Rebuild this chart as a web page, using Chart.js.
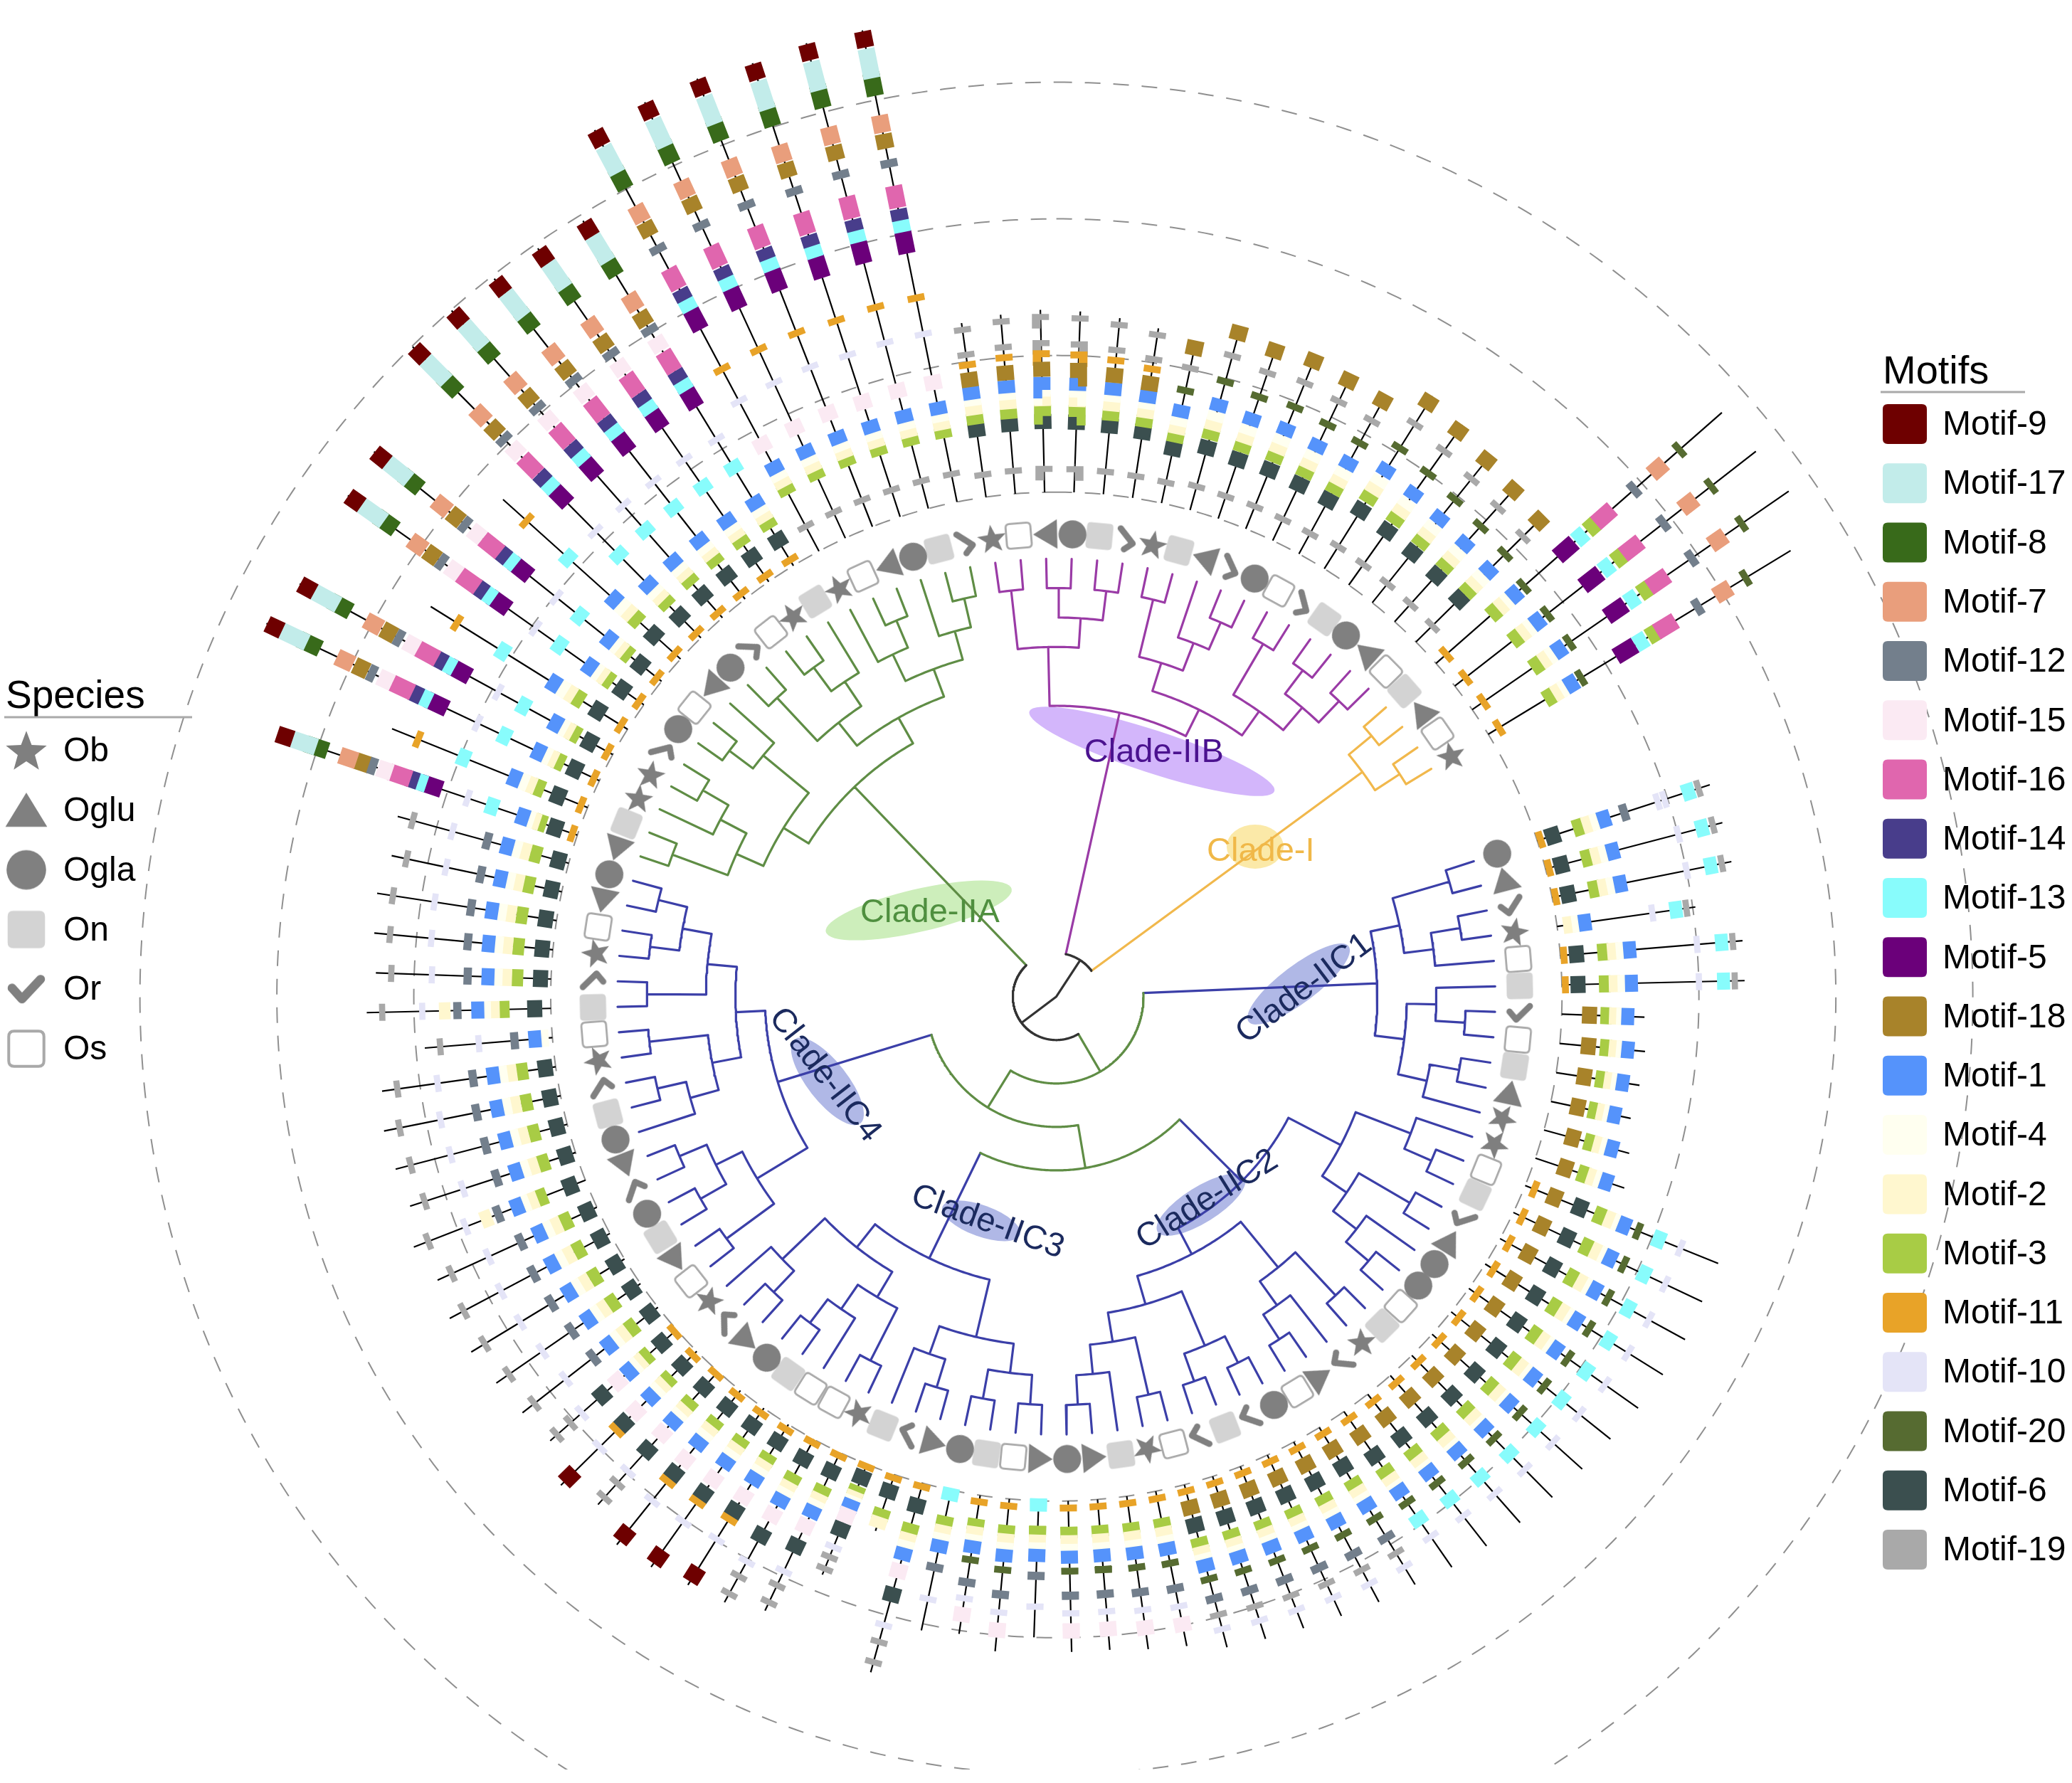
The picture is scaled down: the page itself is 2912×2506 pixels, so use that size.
<!DOCTYPE html>
<html>
<head>
<meta charset="utf-8">
<title>Motif tree</title>
<script src="https://cdn.jsdelivr.net/npm/chart.js@4.4.1/dist/chart.umd.min.js"></script>
<style>
  html, body { margin: 0; padding: 0; background: #ffffff; }
  #wrap { position: relative; width: 2912px; height: 2506px; }
</style>
</head>
<body>
<div id="wrap"><canvas id="treeChart"></canvas></div>
<script>
// ---------- data ----------
const motifIds = [9, 17, 8, 7, 12, 15, 16, 14, 13, 5, 18, 1, 4, 2, 3, 11, 10, 20, 6, 19];
const motifColors = ['#6e0000', '#c2ecea', '#386a1a', '#e99e7c', '#737f8c', '#fbeaf3', '#e066ae', '#483d8b',
    '#88fcfc', '#6b007a', '#a8832a', '#5593fb', '#fffff0', '#fff7cf', '#a8cc45', '#e8a328', '#e4e4f7',
    '#566b31', '#3b4f4f', '#a9a9a9'];
const motifSizes = [24, 44, 34, 26, 12, 22, 33, 17, 19, 33, 22, 19, 14, 17, 17, 10, 9, 10, 22, 9]; // aa

const speciesNames = ['Ob', 'Oglu', 'Ogla', 'On', 'Or', 'Os'];
const ringTicks = [0, 200, 400, 600]; // aa

const cladeNames = ['Clade-IIB', 'Clade-I', 'Clade-IIC1', 'Clade-IIC2', 'Clade-IIC3', 'Clade-IIC4', 'Clade-IIA'];
const cladeColors = ['#9a3ba6', '#f1b84c', '#3b3fa8', '#3b3fa8', '#3b3fa8', '#3b3fa8', '#5f8d45'];
const cladeShapes = [
    '(((x,x),((x,x),(x,x))),(((x,x),(x,(x,x))),((x,x),((x,x),(x,x)))))',
    '((x,x),(x,x))',
    '(((x,x),((x,x),x)),((x,(x,x)),((x,x),x)))',
    '(((x,(x,x)),((x,x),(x,(x,x)))),(((x,x),(x,(x,x))),(((x,x),(x,x)),((x,x),(x,(x,x))))))',
    '((((x,x),(x,x)),((x,x),x)),(((x,x),(x,(x,x))),((x,x),x)))',
    '(((x,x),((x,x),(x,x))),(((x,(x,x)),(x,x)),((x,x),((x,x),(x,x)))))',
    '((((x,x),(x,(x,x))),((x,x),x)),(((x,x),((x,x),x)),((x,(x,x)),(x,(x,x)))))'
];
const backboneShape = '((0,1),((2,((3,4),5)),6))';
const cladeGapAfter = [0, 3, 0, 0, 0, 0, 0];

const cladeSpecies = [
    'Ob Os Oglu Ogla On Or Ob On Oglu Or Ogla Os Or On Ogla Oglu Os',
    'On Oglu Os Ob',
    'Ogla Oglu Or Ob Os On Or Os On Oglu Ob',
    'Ob Os On Or Oglu Ogla Ogla Os On Ob Or Oglu Os Ogla Or On Or Os Ob On Oglu Ogla',
    'Oglu Os On Ogla Oglu Or On Ob Os Os On Ogla Oglu Or Ob',
    'Os Oglu On Ogla Or Oglu Ogla On Or Ob Os On Or Ob Os Oglu Ogla',
    'Oglu On Ob Ob Or Ogla Os Oglu Ogla Or Os Ob On Ob Os Oglu Ogla On Or'
];

const cladePatterns = [
    ['A', 'A', 'A', 'A', 'A', 'A', 'B', 'B', 'B', 'B', 'B', 'B', 'B', 'B', 'B', 'B', 'B'],
    ['I', 'I', 'I', 'I'],
    ['C1a', 'C1', 'C1', 'C1s', 'C1', 'C1', 'C1b', 'C1b', 'C1b', 'C1b', 'C1b'],
    ['C1b', 'C2', 'C2', 'C2', 'C2', 'C2', 'C2', 'C2', 'C2', 'C2', 'C2', 'C2',
        'C2b', 'C2b', 'C2b', 'C2b', 'C2b', 'C2b', 'C3', 'C3', 'C3', 'C3'],
    ['C3m', 'C3', 'C3', 'C3m', 'C3c', 'C3s', 'C3c', 'C3c', 'C3c', 'C3r', 'C3r', 'C3r', 'C3c', 'C3r', 'C3c'],
    ['C4', 'C4', 'C4', 'C4', 'C4', 'C4b', 'C4', 'C4', 'C4', 'C4', 'C4s', 'C4b', 'C4', 'C4', 'C4', 'C4', 'C4'],
    ['A3', 'A5', 'A3', 'A3', 'A5', 'A3', 'A3', 'A5', 'A3', 'A3', 'A3', 'A3', 'A3', 'A2', 'A2', 'A2', 'A2', 'A2', 'A2']
];
const cladeLengths = [
    [257, 263, 267, 265, 259, 251, 241, 279, 269, 275, 269, 265, 298, 287, 277, 269, 262],
    [556, 558, 562, 517],
    [265, 267, 267, 204, 267, 267, 121, 125, 123, 119, 129],
    [137, 304, 305, 308, 306, 303, 298, 295, 292, 287, 282, 277, 269, 265, 259, 254, 250, 246, 231, 226, 221, 221],
    [200, 224, 205, 210, 287, 87, 174, 256, 272, 277, 285, 289, 262, 279, 246],
    [251, 256, 262, 265, 256, 269, 254, 259, 263, 256, 187, 269, 256, 262, 265, 254, 259],
    [462, 308, 538, 521, 339, 530, 538, 349, 599, 599, 595, 593, 591, 698, 702, 704, 698, 704, 704]
];

// motif architectures: [motif, position], last entry [0, length]
const patA = [[19, 33], [6, 100], [3, 116], [2, 130], [4, 142], [1, 154], [18, 174], [11, 196], [19, 211], [19, 248], [0, 258]];
const patB = [[19, 35], [6, 92], [3, 112], [2, 126], [4, 138], [1, 155], [20, 190], [19, 228], [18, 262], [0, 272]];
const patI = [[11, 19], [3, 108], [2, 123], [4, 134], [1, 146], [20, 163], [5, 241], [13, 268], [3, 289], [16, 312],
    [12, 368], [7, 412], [20, 452], [0, 531]];
const patC1a = [[11, 5], [6, 23], [3, 62], [2, 76], [4, 87], [1, 100], [12, 130], [10, 180], [10, 190], [13, 226], [19, 241], [0, 258]];
const patC1 = [[11, 5], [6, 23], [3, 61], [2, 75], [4, 86], [1, 99], [10, 195], [13, 230], [19, 246], [0, 260]];
const patC1s = [[2, 17], [4, 28], [1, 40], [10, 137], [13, 171], [19, 186], [0, 199]];
const patC1b = [[18, 45], [3, 72], [2, 86], [4, 96], [1, 107], [0, 134]];
const patC2 = [[11, 14], [18, 45], [6, 84], [3, 114], [2, 130], [4, 142], [1, 152], [20, 173], [13, 205], [10, 238], [0, 296]];
const patC2b = [[11, 10], [18, 35], [6, 62], [3, 90], [2, 103], [4, 113], [1, 124], [20, 145], [12, 175], [19, 200], [10, 222], [0, 250]];
const patC3 = [[11, 10], [3, 45], [2, 57], [4, 68], [1, 80], [20, 100], [12, 135], [10, 160], [15, 185], [0, 215]];
const patC3m = [[13, 6], [3, 45], [2, 58], [4, 68], [1, 80], [12, 110], [10, 155], [0, 200]];
const patC3c = [[11, 5], [6, 33], [3, 68], [2, 82], [4, 92], [1, 105], [15, 130], [6, 165], [10, 210], [19, 235], [19, 265], [0, 280]];
const patC3s = [[11, 5], [6, 25], [3, 60], [2, 72], [0, 85]];
const patC3r = [[11, 8], [6, 30], [3, 60], [2, 72], [4, 82], [1, 95], [15, 125], [6, 150], [11, 165], [10, 200], [9, 262], [0, 280]];
const patC4 = [[6, 15], [3, 48], [2, 64], [4, 76], [1, 90], [12, 119], [10, 170], [19, 228], [0, 250]];
const patC4b = [[6, 23], [3, 67], [2, 81], [4, 92], [1, 104], [12, 133], [2, 151], [10, 183], [19, 240], [0, 262]];
const patC4s = [[4, 12], [1, 25], [12, 54], [10, 105], [19, 160], [0, 182]];
const patA2 = [[19, 40], [3, 100], [2, 112], [4, 122], [1, 135], [15, 172], [10, 242], [11, 294], [5, 374], [13, 398],
    [14, 414], [16, 440], [12, 488], [18, 520], [7, 545], [8, 602], [17, 632], [9, 667], [0, 680]];
const patA3 = [[11, 10], [6, 45], [3, 75], [2, 88], [4, 98], [1, 112], [13, 175], [10, 225], [5, 300], [13, 322],
    [14, 338], [16, 364], [15, 395], [12, 420], [18, 440], [7, 470], [8, 535], [17, 565], [9, 600], [0, 615]];
const patA5 = [[11, 10], [6, 45], [3, 75], [2, 88], [4, 98], [1, 112], [13, 190], [11, 260], [0, 300]];

const patterns = {
    A: patA, B: patB, I: patI, C1a: patC1a, C1: patC1, C1s: patC1s, C1b: patC1b, C2: patC2, C2b: patC2b,
    C3: patC3, C3m: patC3m, C3c: patC3c, C3s: patC3s, C3r: patC3r, C4: patC4, C4b: patC4b, C4s: patC4s,
    A2: patA2, A3: patA3, A5: patA5
};

// ---------- layout ----------
const CX = 1485, CY = 1403, W = 2912, H = 2506;
const R_SYMBOL = 660, R_TIP = 625, R_LINE0 = 720, AA_PX = 0.975;
const D_LEVEL = 42, BACKBONE_STEP = 62, START_ANGLE = 352, BOX_W = 24;
const FONT = '"Liberation Sans", Arial, sans-serif';

function polar(r, deg) {
    const a = deg * Math.PI / 180;
    return { x: r * Math.sin(a), y: r * Math.cos(a) };
}
function arcPts(r, a1, a2) {
    const n = Math.max(2, Math.ceil(Math.abs(a2 - a1) / 0.5) + 1);
    const pts = [];
    for (let i = 0; i < n; i++) pts.push(polar(r, a1 + (a2 - a1) * i / (n - 1)));
    return pts;
}
function addSeg(arr, pts) {
    if (arr.length) arr.push({ x: null, y: null });
    pts.forEach(p => arr.push(p));
}

function parseShape(str, refs) {
    let i = 0;
    function node() {
        if (str[i] === '(') {
            i++;
            const kids = [node()];
            while (str[i] === ',') { i++; kids.push(node()); }
            i++;
            return { kids };
        }
        const ch = str[i++];
        if (refs) return refs[+ch];
        return { leaf: true };
    }
    return node();
}

const totalLeaves = cladeSpecies.reduce((s, t) => s + t.split(' ').length, 0);
const totalGaps = cladeGapAfter.reduce((s, v) => s + v, 0);
const STEP = 360 / (totalLeaves + totalGaps);

const leaves = [];
const cladeRoots = [];
let slot = 0;
cladeNames.forEach((name, ci) => {
    const root = parseShape(cladeShapes[ci]);
    const sp = cladeSpecies[ci].split(' ');
    let k = 0;
    function place(n) {
        n.color = cladeColors[ci];
        if (n.leaf) {
            n.angle = START_ANGLE + slot * STEP;
            slot++;
            n.r = R_TIP;
            n.h = 0;
            leaves.push({ angle: n.angle, species: sp[k], pattern: cladePatterns[ci][k], len: cladeLengths[ci][k] });
            k++;
            return;
        }
        n.kids.forEach(place);
        n.h = 1 + Math.max(...n.kids.map(c => c.h));
        n.r = R_TIP - D_LEVEL * n.h;
        n.angle = (n.kids[0].angle + n.kids[n.kids.length - 1].angle) / 2;
    }
    place(root);
    if (k !== sp.length) console.warn('leaf count mismatch', name, k, sp.length);
    root.isClade = true;
    slot += cladeGapAfter[ci];
    cladeRoots.push(root);
});

const treeRoot = parseShape(backboneShape, cladeRoots);
(function placeBackbone(n, depth) {
    if (n.isClade) return;
    n.kids.forEach(c => placeBackbone(c, depth + 1));
    n.r = BACKBONE_STEP * depth;
    n.angle = (n.kids[0].angle + n.kids[n.kids.length - 1].angle) / 2;
    n.color = depth >= 2 ? cladeColors[6] : '#333333';
})(treeRoot, 0);

// tree branches grouped by colour
const branchStore = {};
function store(color) { return branchStore[color] || (branchStore[color] = []); }
(function collect(n) {
    if (!n.kids) return;
    const first = n.kids[0], last = n.kids[n.kids.length - 1];
    if (n.r > 0) addSeg(store(n.color), arcPts(n.r, first.angle, last.angle));
    n.kids.forEach(c => {
        addSeg(store(c.color), [polar(n.r, c.angle), polar(c.r, c.angle)]);
        collect(c);
    });
})(treeRoot);

// protein lines and motif boxes
const linePts = [];
const motifPts = motifIds.map(() => []);
leaves.forEach(lf => {
    const pat = patterns[lf.pattern];
    const base = pat[pat.length - 1][1];
    addSeg(linePts, [polar(R_LINE0, lf.angle), polar(R_LINE0 + lf.len * AA_PX, lf.angle)]);
    pat.forEach(([m, pos]) => {
        if (!m) return;
        const mi = motifIds.indexOf(m);
        const c = pos * lf.len / base;
        const half = motifSizes[mi] / 2;
        addSeg(motifPts[mi], [polar(R_LINE0 + (c - half) * AA_PX, lf.angle), polar(R_LINE0 + (c + half) * AA_PX, lf.angle)]);
    });
});

// species symbols
function roundRectPath(g, x, y, w, h, r) {
    g.beginPath();
    g.moveTo(x + r, y);
    g.lineTo(x + w - r, y);
    g.quadraticCurveTo(x + w, y, x + w, y + r);
    g.lineTo(x + w, y + h - r);
    g.quadraticCurveTo(x + w, y + h, x + w - r, y + h);
    g.lineTo(x + r, y + h);
    g.quadraticCurveTo(x, y + h, x, y + h - r);
    g.lineTo(x, y + r);
    g.quadraticCurveTo(x, y, x + r, y);
    g.closePath();
}
function drawSymbol(g, code) {
    g.lineJoin = 'round';
    g.lineCap = 'round';
    if (code === 'Ob') {
        g.fillStyle = '#7f7f7f';
        g.beginPath();
        for (let i = 0; i < 10; i++) {
            const rr = i % 2 ? 8.2 : 19.5;
            const a = -Math.PI / 2 + i * Math.PI / 5;
            g.lineTo(rr * Math.cos(a), rr * Math.sin(a) + 1.5);
        }
        g.closePath();
        g.fill();
    } else if (code === 'Oglu') {
        g.fillStyle = '#808080';
        g.beginPath();
        g.moveTo(0, -16); g.lineTo(19, 15); g.lineTo(-19, 15);
        g.closePath();
        g.fill();
    } else if (code === 'Ogla') {
        g.fillStyle = '#808080';
        g.beginPath();
        g.arc(0, 0, 18, 0, Math.PI * 2);
        g.fill();
    } else if (code === 'On') {
        g.fillStyle = '#d3d3d3';
        roundRectPath(g, -17, -17, 34, 34, 5);
        g.fill();
    } else if (code === 'Or') {
        g.strokeStyle = '#808080';
        g.lineWidth = 8;
        g.beginPath();
        g.moveTo(-13, -1); g.lineTo(-4, 9); g.lineTo(13, -9);
        g.stroke();
    } else {
        g.fillStyle = '#ffffff';
        g.strokeStyle = '#a9a9a9';
        g.lineWidth = 2.6;
        roundRectPath(g, -16, -16, 32, 32, 5);
        g.fill();
        g.stroke();
    }
}
function makeSymbol(code, size) {
    const c = document.createElement('canvas');
    c.width = size;
    c.height = size;
    const g = c.getContext('2d');
    g.translate(size / 2, size / 2);
    g.scale(size / 44, size / 44);
    drawSymbol(g, code);
    return c;
}
const smallSymbols = {}, bigSymbols = {};
speciesNames.forEach(s => { smallSymbols[s] = makeSymbol(s, 48); bigSymbols[s] = makeSymbol(s, 68); });

function symbolRotation(code, angle) {
    return (code === 'Oglu' || code === 'Or') ? angle - 90 : angle;
}

// ---------- datasets ----------
const datasets = [];
ringTicks.forEach(t => {
    datasets.push({
        data: arcPts(R_LINE0 + t * AA_PX, 0, 360),
        showLine: true, borderColor: '#8f8f8f', borderWidth: 2, borderDash: [22, 18],
        pointRadius: 0, order: 6
    });
});
datasets.push({
    data: linePts, showLine: true, borderColor: '#000000', borderWidth: 2.2,
    borderCapStyle: 'butt', pointRadius: 0, order: 5
});
motifIds.forEach((m, i) => {
    datasets.push({
        label: 'Motif-' + m, data: motifPts[i], showLine: true, borderColor: motifColors[i],
        borderWidth: BOX_W, borderCapStyle: 'butt', pointRadius: 0, order: 4
    });
});
Object.keys(branchStore).forEach(color => {
    datasets.push({
        data: branchStore[color], showLine: true, borderColor: color, borderWidth: 3.2,
        borderCapStyle: 'round', borderJoinStyle: 'round', pointRadius: 0, order: 3
    });
});
speciesNames.forEach(s => {
    const mine = leaves.filter(l => l.species === s);
    datasets.push({
        label: s,
        data: mine.map(l => polar(R_SYMBOL, l.angle)),
        pointStyle: smallSymbols[s],
        pointRotation: mine.map(l => symbolRotation(s, l.angle)),
        pointRadius: 18, order: 1
    });
});

// ---------- clade labels & legends ----------
const cladeLabels = [
    { text: 'Clade-IIB', x: 139, y: 348, rot: 0, color: '#4b128f', ex: 136, ey: 350, rx: 181, ry: 30, erot: 18, fill: '#d3b6fb' },
    { text: 'Clade-I', x: 291, y: 207, rot: 0, color: '#f0b848', ex: 283, ey: 214, rx: 40, ry: 31, erot: 0, fill: '#fbe9a8' },
    { text: 'Clade-IIA', x: -180, y: 119, rot: 0, color: '#4f8f3f', ex: -196, ey: 123, rx: 134, ry: 30, erot: -13, fill: '#cdeebb' },
    { text: 'Clade-IIC1', x: 353, y: 11, rot: -37, color: '#1b2a5e', ex: 345, ey: 18, rx: 88, ry: 26, erot: -37, fill: '#b0b8e6' },
    { text: 'Clade-IIC2', x: 215, y: -290, rot: -32, color: '#1b2a5e', ex: 206, ey: -297, rx: 72, ry: 25, erot: -32, fill: '#b0b8e6' },
    { text: 'Clade-IIC3', x: -98, y: -322, rot: 20, color: '#1b2a5e', ex: -107, ey: -320, rx: 58, ry: 22, erot: 20, fill: '#b0b8e6' },
    { text: 'Clade-IIC4', x: -330, y: -112, rot: 52, color: '#1b2a5e', ex: -326, ey: -121, rx: 75, ry: 28, erot: 52, fill: '#b0b8e6' }
];

const cladeLabelPlugin = {
    id: 'cladeLabels',
    beforeDatasetsDraw(chart) {
        const g = chart.ctx, xs = chart.scales.x, ys = chart.scales.y;
        g.save();
        cladeLabels.forEach(l => {
            g.fillStyle = l.fill;
            g.beginPath();
            g.ellipse(xs.getPixelForValue(l.ex), ys.getPixelForValue(l.ey), l.rx, l.ry, l.erot * Math.PI / 180, 0, Math.PI * 2);
            g.fill();
        });
        g.restore();
    },
    afterDatasetsDraw(chart) {
        const g = chart.ctx, xs = chart.scales.x, ys = chart.scales.y;
        g.save();
        g.font = '47px ' + FONT;
        g.textAlign = 'center';
        g.textBaseline = 'middle';
        cladeLabels.forEach(l => {
            g.save();
            g.translate(xs.getPixelForValue(l.x), ys.getPixelForValue(l.y));
            g.rotate(l.rot * Math.PI / 180);
            g.fillStyle = l.color;
            g.fillText(l.text, 0, 0);
            g.restore();
        });
        g.restore();
    }
};

const sideLegendPlugin = {
    id: 'sideLegends',
    afterDraw(chart) {
        const g = chart.ctx;
        g.save();
        g.textAlign = 'left';
        g.textBaseline = 'middle';
        g.fillStyle = '#000000';
        g.font = '55px ' + FONT;
        g.fillText('Species', 8, 980);
        g.strokeStyle = '#a9a9a9';
        g.lineWidth = 3;
        g.beginPath(); g.moveTo(6, 1008); g.lineTo(270, 1008); g.stroke();
        g.font = '48px ' + FONT;
        speciesNames.forEach((s, i) => {
            const y = 1055 + i * 83.8;
            g.drawImage(bigSymbols[s], 37 - 34, y - 34, 68, 68);
            g.fillStyle = '#000000';
            g.fillText(s, 89, y + 2);
        });

        g.font = '56px ' + FONT;
        g.fillText('Motifs', 2646, 524);
        g.beginPath(); g.moveTo(2643, 551); g.lineTo(2846, 551); g.stroke();
        g.font = '48px ' + FONT;
        motifIds.forEach((m, i) => {
            const y = 596 + i * 83.26;
            g.fillStyle = motifColors[i];
            roundRectPath(g, 2646, y - 28, 62, 56, 7);
            g.fill();
            g.fillStyle = '#000000';
            g.fillText('Motif-' + m, 2730, y + 2);
        });
        g.restore();
    }
};

const ctx = document.getElementById('treeChart').getContext('2d');
const treeChart = new Chart(ctx, {
    type: 'scatter',
    data: { datasets: datasets },
    options: {
        responsive: true,
        maintainAspectRatio: false,
        animation: false,
        events: [],
        layout: { padding: 0 },
        elements: { line: { tension: 0, fill: false } },
        plugins: { legend: { display: false }, tooltip: { enabled: false } },
        scales: {
            x: { type: 'linear', display: false, min: -CX, max: W - CX },
            y: { type: 'linear', display: false, min: -(H - CY), max: CY }
        }
    },
    plugins: [cladeLabelPlugin, sideLegendPlugin]
});
</script>
</body>
</html>
